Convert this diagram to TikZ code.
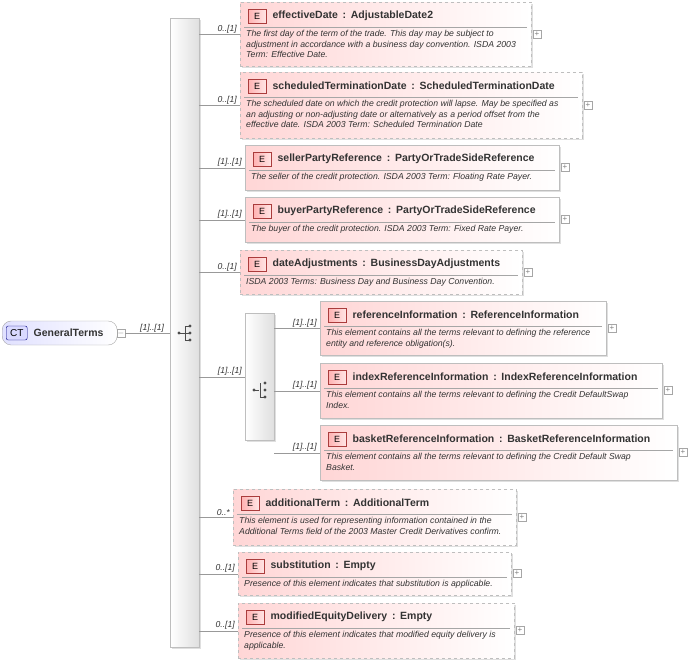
\documentclass[tikz,border=0pt]{standalone}
\usepackage{fontspec}
\setmainfont{Liberation Sans}
\usetikzlibrary{positioning}
\definecolor{elemfill}{RGB}{255,214,214}
\definecolor{elemedge}{RGB}{190,190,190}
\definecolor{badgeedge}{RGB}{170,60,60}
\tikzset{
    x=1pt, y=-1pt,
    elembox/.style={draw=elemedge, left color=elemfill, right color=white, inner sep=0pt},
    badge/.style={draw=badgeedge, left color=red!30, right color=red!10, minimum width=18pt, minimum height=14pt, inner sep=0pt, font=\fontsize{9}{10}\selectfont},
    title/.style={font=\bfseries\fontsize{10.5}{12}\selectfont, text=black!80, inner sep=0pt, anchor=west},
    desc/.style={font=\itshape\fontsize{8.7}{10.6}\selectfont, text=black!80, align=left, inner sep=0pt, anchor=north west},
    mult/.style={font=\itshape\fontsize{8.6}{10}\selectfont, text=black!80, inner sep=1pt},
    bar/.style={draw=elemedge, left color=white, right color=gray!25, inner sep=0pt, anchor=north west},
    plus/.style={draw=gray!70, fill=white, minimum size=8pt, inner sep=0pt, font=\fontsize{8}{8}\selectfont, text=gray},
    link/.style={draw=gray!80},
}
% name, x1, y1, x2, y2, border style, name part, type part, description
\newcommand\xelem[9]{%
    \fill[gray!25] (#2+2,#3+2) rectangle (#4+2,#5+2);
    \node[elembox, #6, anchor=north west, minimum width={(#4-#2)*1pt}, minimum height={(#5-#3)*1pt}] (#1) at (#2,#3) {};
    \node[badge, anchor=north west] (#1b) at (#2+8,#3+7) {E};
    \node[title, right=6pt of #1b] {#7\hspace{0.45em}:\hspace{0.45em}#8};
    \draw[gray!70] (#2+4,#3+25) -- (#4-4,#3+25);
    \node[desc] at (#2+6,#3+28) {#9};
    \node[plus] at (#4+6,{(#3+#5)/2}) {+};
}
\begin{document}
\begin{tikzpicture}
\useasboundingbox (0,0) rectangle (688,665);

% root type
\node[draw=gray!70, rounded corners=9pt, left color=blue!12, right color=white, minimum width=115pt, minimum height=24pt, anchor=west] (root) at (2,333) {};
\node[draw=blue!50!black, fill=blue!15, rounded corners=2pt, minimum width=21pt, minimum height=14pt, inner sep=0pt, font=\fontsize{10}{10}\selectfont, anchor=west] (rootb) at (6,333) {CT};
\node[title, right=6pt of rootb] {GeneralTerms};
\node[plus] (rootm) at (121,333) {$-$};

% sequence bar
\fill[gray!25] (172,20) rectangle (201,649);
\node[bar, minimum width=29pt, minimum height=629pt] (seq) at (170,18) {};
\draw[link] (rootm.east) -- node[mult, above, pos=0.6] {[1]..[1]} (seq.west |- rootm.east);
% sequence icon
\fill[black!70] (179,333) circle (1.7);
\draw[black!70, line width=0.8pt] (179,333) -- (185,333) (185,326) -- (185,340) (185,326) -- (190,326) (185,333) -- (190,333) (185,340) -- (190,340);
\foreach \yy in {326,333,340} \fill[black!70] (190,\yy) circle (1.7);

\xelem{effDate}{240}{2}{531}{66}{dashed}{effectiveDate}{AdjustableDate2}{The first day of the term of the trade. This day may be subject to\\adjustment in accordance with a business day convention. ISDA 2003\\Term: Effective Date.}
\xelem{schedDate}{240}{72}{582}{138}{dashed}{scheduledTerminationDate}{ScheduledTerminationDate}{The scheduled date on which the credit protection will lapse. May be specified as\\an adjusting or non-adjusting date or alternatively as a period offset from the\\effective date. ISDA 2003 Term: Scheduled Termination Date}
\xelem{seller}{245}{145}{559}{190}{solid}{sellerPartyReference}{PartyOrTradeSideReference}{The seller of the credit protection. ISDA 2003 Term: Floating Rate Payer.}
\xelem{buyer}{245}{197}{559}{242}{solid}{buyerPartyReference}{PartyOrTradeSideReference}{The buyer of the credit protection. ISDA 2003 Term: Fixed Rate Payer.}
\xelem{dateAdj}{240}{250}{522}{294}{dashed}{dateAdjustments}{BusinessDayAdjustments}{ISDA 2003 Terms: Business Day and Business Day Convention.}
\xelem{refInfo}{320}{301}{606}{355}{solid}{referenceInformation}{ReferenceInformation}{This element contains all the terms relevant to defining the reference\\entity and reference obligation(s).}
\xelem{indexInfo}{320}{363}{662}{418}{solid}{indexReferenceInformation}{IndexReferenceInformation}{This element contains all the terms relevant to defining the Credit DefaultSwap\\Index.}
\xelem{basketInfo}{320}{425}{677}{480}{solid}{basketReferenceInformation}{BasketReferenceInformation}{This element contains all the terms relevant to defining the Credit Default Swap\\Basket.}
\xelem{addTerm}{233}{489}{516}{545}{dashed}{additionalTerm}{AdditionalTerm}{This element is used for representing information contained in the\\Additional Terms field of the 2003 Master Credit Derivatives confirm.}
\xelem{subst}{238}{552}{511}{595}{dashed}{substitution}{Empty}{Presence of this element indicates that substitution is applicable.}
\xelem{modEq}{238}{603}{514}{658}{dashed}{modifiedEquityDelivery}{Empty}{Presence of this element indicates that modified equity delivery is\\applicable.}

% choice bar
\fill[gray!25] (247,315) rectangle (276,442);
\node[bar, minimum width=29pt, minimum height=127pt] (choice) at (245,313) {};
\fill[black!70] (254,390) circle (1.7);
\draw[black!70, line width=0.8pt] (254,390) -- (259,390) (260,383) -- (260,397) (260,397) -- (265,397);
\foreach \yy in {383,390,397} \fill[black!70] (265,\yy) circle (1.7);

% connectors
\foreach \n/\m in {effDate/0..[1], schedDate/0..[1], seller/[1]..[1], buyer/[1]..[1], dateAdj/0..[1], addTerm/0..*, subst/0..[1], modEq/0..[1]}
    \draw[link] (seq.east |- \n.west) -- (\n.west) node[mult, anchor=south east, xshift=-2pt] {\m};
\draw[link] (seq.east |- choice.west) -- (choice.west) node[mult, anchor=south east, xshift=-2pt] {[1]..[1]};
\foreach \n in {refInfo, indexInfo, basketInfo}
    \draw[link] (choice.east |- \n.west) -- (\n.west) node[mult, anchor=south east, xshift=-2pt] {[1]..[1]};

\end{tikzpicture}
\end{document}
